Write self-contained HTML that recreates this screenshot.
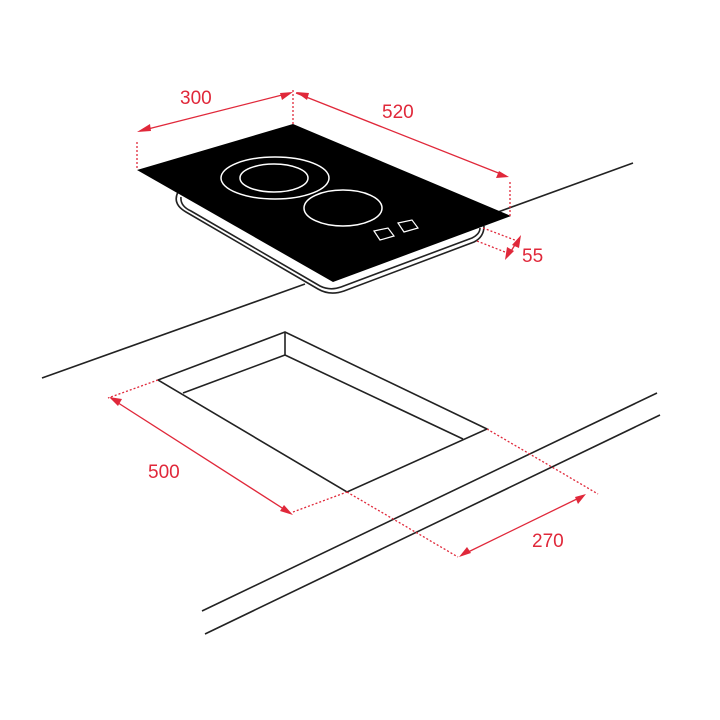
<!DOCTYPE html>
<html><head><style>html,body{margin:0;padding:0;background:#fff}svg{display:block}</style></head><body>
<svg width="720" height="720" viewBox="0 0 720 720" xmlns="http://www.w3.org/2000/svg">
<g stroke="#222" stroke-width="1.6" fill="none">
<line x1="42" y1="378" x2="305" y2="284"/>
<line x1="498" y1="212" x2="633" y2="163"/>
<path d="M178,192 Q172,204 186,212 L318,289 Q330,296 344,291 L474,242 Q484,237 484,226" fill="#fff"/>
<path d="M181,197 Q180,206 191,211 L320,286 Q330,291 341,287 L472,238 Q480,234 480,228"/>
<polygon points="285,332 158,380 347,492 487,429"/>
<polyline points="183,393 285,355 463,439"/>
<line x1="285" y1="332" x2="285" y2="355"/>
<line x1="202" y1="611" x2="657" y2="393"/>
<line x1="205" y1="634" x2="660" y2="415"/>
</g>
<polygon points="137,170 293,124 511,216 333,282" fill="#000"/>
<g stroke="#fff" stroke-width="1.5" fill="none">
<ellipse cx="275" cy="178" rx="54" ry="21"/>
<ellipse cx="274" cy="178" rx="34" ry="14"/>
<ellipse cx="343" cy="208" rx="39" ry="18"/>
<polygon points="374,231 388,228 394,236 380,240" stroke-width="1.2"/>
<polygon points="398,223 412,220 418,228 404,232" stroke-width="1.2"/>
</g>
<g stroke="#e0283a" stroke-width="1.3" fill="none">
<g stroke-dasharray="2,2">
<line x1="137" y1="142" x2="137" y2="170"/>
<line x1="293" y1="90" x2="293" y2="124"/>
<line x1="510" y1="182" x2="510" y2="216"/>
<line x1="483" y1="228" x2="520" y2="242"/>
<line x1="477" y1="241" x2="510" y2="254"/>
<line x1="158" y1="380" x2="108" y2="398"/>
<line x1="293" y1="512" x2="347" y2="492"/>
<line x1="487" y1="429" x2="598" y2="494"/>
<line x1="347" y1="492" x2="458" y2="557"/>
</g>
<line x1="140" y1="131" x2="290" y2="93"/>
<line x1="296" y1="93" x2="506" y2="176"/>
<line x1="518" y1="240" x2="508" y2="256"/>
<line x1="112" y1="399" x2="290" y2="513"/>
<line x1="462" y1="555" x2="583" y2="496"/>
</g>
<g fill="#e0283a">
<polygon points="137,132 150,124 151,131"/>
<polygon points="293,92 280,93 282,100"/>
<polygon points="296,92 307,100 309,93"/>
<polygon points="509,177 496,178 499,171"/>
<polygon points="521,235 512,245 519,248"/>
<polygon points="505,260 507,247 514,251"/>
<polygon points="109,397 122,399 118,406"/>
<polygon points="293,515 284,505 280,511"/>
<polygon points="459,557 467,547 471,553"/>
<polygon points="586,494 578,504 575,497"/>
</g>
<g fill="#e0283a" font-family="Liberation Sans, sans-serif" font-size="19">
<text x="180" y="104">300</text>
<text x="382" y="118">520</text>
<text x="522" y="262">55</text>
<text x="148" y="478">500</text>
<text x="532" y="547">270</text>
</g>
</svg>
</body></html>
